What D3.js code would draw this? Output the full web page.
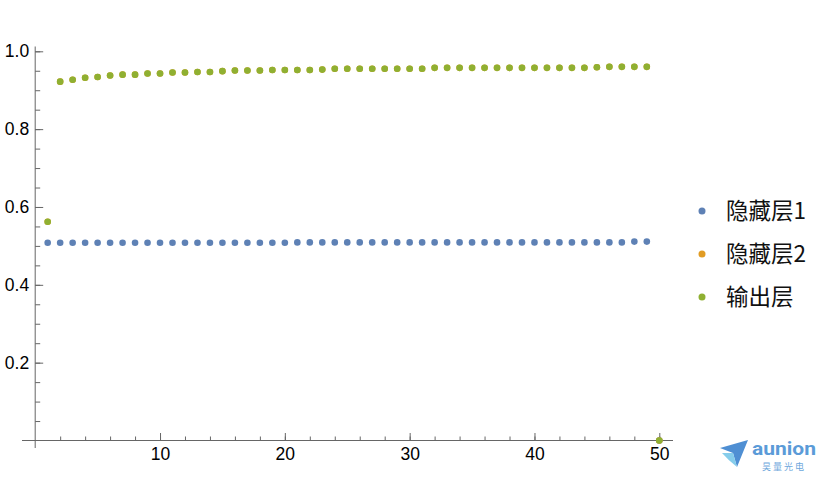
<!DOCTYPE html>
<html><head><meta charset="utf-8">
<script src="https://cdn.jsdelivr.net/npm/d3@7"></script>
<style>body{margin:0;background:#fff}svg{display:block}</style>
</head><body>
<svg id="c" width="828" height="479"></svg>
<script>
const xs = d3.range(1, 51);
const hidden1 = [0.508,0.508,0.508,0.508,0.508,0.508,0.508,0.508,0.508,0.508,
  0.508,0.508,0.508,0.508,0.508,0.508,0.508,0.508,0.508,0.508,
  0.509,0.509,0.509,0.509,0.509,0.509,0.509,0.509,0.509,0.509,
  0.509,0.509,0.509,0.509,0.509,0.509,0.509,0.509,0.509,0.509,
  0.509,0.509,0.509,0.509,0.509,0.509,0.509,0.511,0.511,0];
const output = [0.562,0.922,0.927,0.932,0.934,0.938,0.940,0.940,0.943,0.943,
  0.9455,0.9455,0.947,0.947,0.949,0.9505,0.9505,0.9505,0.952,0.952,
  0.952,0.952,0.953,0.955,0.955,0.955,0.955,0.955,0.955,0.955,
  0.955,0.9575,0.9575,0.9575,0.9575,0.9575,0.9575,0.9575,0.9575,0.9575,
  0.9575,0.9575,0.9575,0.9575,0.959,0.960,0.960,0.960,0.960,0];
const hidden2 = output.slice();
const seriesNames = ["隐藏层1","隐藏层2","输出层"];
const seriesColors = ["#5E81B5","#E19C24","#8FB032"];
const yMajor = [0.2,0.4,0.6,0.8,1.0];
const yMinor = d3.range(1,21).map(i=>i*0.05);
const xMajor = [10,20,30,40,50];
const xMinor = d3.range(1,26).map(i=>i*2);

const svg = d3.select("#c");
const x = d3.scaleLinear().domain([0,50]).range([35.2,659.3]);
const y = d3.scaleLinear().domain([0,1]).range([440.5,51.3]);
const axisColor = "#666";
const font = "'Liberation Sans', Arial, sans-serif";

function styleAxis(g){
  g.select(".domain").remove();
  g.selectAll(".tick line").attr("stroke",axisColor);
  g.selectAll("text").attr("fill","#000").style("font-family",font).style("font-size","17.5px");
}
svg.append("line").attr("x1",22).attr("x2",673).attr("y1",y(0)).attr("y2",y(0)).attr("stroke",axisColor);
svg.append("line").attr("x1",x(0)).attr("x2",x(0)).attr("y1",46.5).attr("y2",448).attr("stroke",axisColor);

svg.append("g").attr("transform",`translate(0,${y(0)})`)
  .call(d3.axisBottom(x).tickValues(xMinor).tickSizeInner(-4).tickSizeOuter(0).tickFormat(""))
  .call(styleAxis);
svg.append("g").attr("transform",`translate(0,${y(0)})`)
  .call(d3.axisBottom(x).tickValues(xMajor).tickSizeInner(-7.5).tickSizeOuter(0).tickPadding(7.5).tickFormat(d3.format("d")))
  .call(styleAxis);
svg.append("g").attr("transform",`translate(${x(0)},0)`)
  .call(d3.axisLeft(y).tickValues(yMinor).tickSizeInner(-5).tickSizeOuter(0).tickFormat(""))
  .call(styleAxis);
svg.append("g").attr("transform",`translate(${x(0)},0)`)
  .call(d3.axisLeft(y).tickValues(yMajor).tickSizeInner(-8).tickSizeOuter(0).tickPadding(6).tickFormat(d3.format(".1f")))
  .call(styleAxis);

const allSeries = [hidden1, hidden2, output];
allSeries.forEach((vals,i)=>{
  svg.append("g").selectAll("circle").data(vals).join("circle")
    .attr("cx",(d,j)=>x(xs[j])).attr("cy",d=>y(d)).attr("r",3.3)
    .attr("fill",seriesColors[i]);
});

const legY = [211,254,297];
seriesNames.forEach((n,i)=>{
  svg.append("circle").attr("cx",702).attr("cy",legY[i]).attr("r",3.5).attr("fill",seriesColors[i]);
  svg.append("text").attr("x",726).attr("y",legY[i]).attr("dy","0.36em")
    .style("font-family","'Noto Sans CJK SC', sans-serif").style("font-size","22.5px").attr("fill","#111").text(n);
});

const logo = svg.append("g");
logo.append("path").attr("d","M720,448 L748,440 L737,467 L733,453 Z").attr("fill","#4F8FD3");
logo.append("path").attr("d","M722,453 L733,453 L737,467 Q728,460 722,453 Z").attr("fill","#86CDEB");
logo.append("text").attr("x",752).attr("y",455).attr("textLength",64).attr("lengthAdjust","spacingAndGlyphs")
  .style("font-family","Roboto, Arial, sans-serif").style("font-weight","bold").style("font-size","19px")
  .attr("fill","#5B9BD8").text("aunion");
logo.append("text").attr("x",762).attr("y",470).attr("textLength",42)
  .style("font-family","'Noto Sans CJK SC', sans-serif").style("font-size","9px")
  .attr("fill","#6FA8DC").text("昊量光电");
</script>
</body></html>
